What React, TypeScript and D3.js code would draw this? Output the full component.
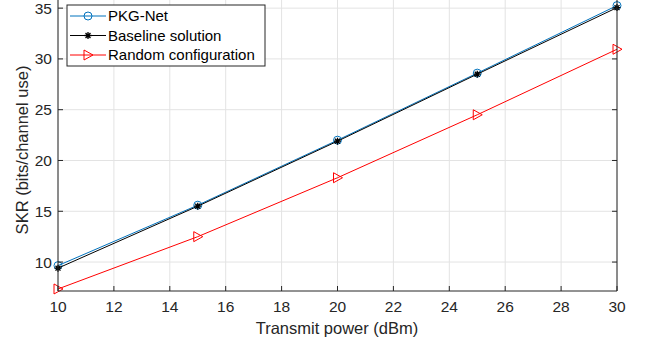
import React from "react";
import * as d3 from "d3";

const power = [10, 15, 20, 25, 30];
const pkgNet = [9.65, 15.6, 22.0, 28.6, 35.25];
const baseline = [9.4, 15.5, 21.9, 28.5, 35.05];
const randomCfg = [7.35, 12.5, 18.3, 24.5, 30.95];
const xTicks = [10, 12, 14, 16, 18, 20, 22, 24, 26, 28, 30];
const yTicks = [10, 15, 20, 25, 30, 35];

const W = 645, H = 341;
const left = 58, right = 617, top = 0, bottom = 291;

const x = d3.scaleLinear().domain([10, 30]).range([left, right]);
const y = d3.scaleLinear().domain([7.15, 35.8]).range([bottom, top]);
const line = d3.line<number>().x((_, i) => x(power[i])).y(d => y(d));

const axisColor = "#262626";
const font = "'Liberation Sans', Arial, sans-serif";

const series = [
  { name: "PKG-Net", data: pkgNet, color: "#0072BD", marker: "circle" },
  { name: "Baseline solution", data: baseline, color: "#000000", marker: "star" },
  { name: "Random configuration", data: randomCfg, color: "#FF0000", marker: "tri" },
];

function Marker({ kind, cx, cy, color }: { kind: string; cx: number; cy: number; color: string }) {
  if (kind === "circle") return <circle cx={cx} cy={cy} r={4} fill="none" stroke={color} strokeWidth={1} />;
  if (kind === "tri")
    return <path d={`M${cx - 4},${cy - 5}L${cx + 5},${cy}L${cx - 4},${cy + 5}Z`} fill="none" stroke={color} strokeWidth={1} />;
  const r = 3.5;
  const segs = [0, 45, 90, 135].map(a => {
    const t = (a * Math.PI) / 180;
    return `M${cx - r * Math.cos(t)},${cy - r * Math.sin(t)}L${cx + r * Math.cos(t)},${cy + r * Math.sin(t)}`;
  });
  return <path d={segs.join("")} stroke={color} strokeWidth={1.3} />;
}

export default function App() {
  return (
    <svg width={W} height={H} style={{ position: "absolute", left: 0, top: 0 }} fontFamily={font}>
      <rect width={W} height={H} fill="#fff" />
      {xTicks.map(t => (
        <line key={"gx" + t} x1={x(t)} x2={x(t)} y1={top} y2={bottom} stroke="#e3e3e3" strokeWidth={1} />
      ))}
      {yTicks.map(t => (
        <line key={"gy" + t} x1={left} x2={right} y1={y(t)} y2={y(t)} stroke="#e3e3e3" strokeWidth={1} />
      ))}
      {series.map(s => (
        <g key={s.name}>
          <path d={line(s.data) ?? ""} fill="none" stroke={s.color} strokeWidth={1} />
          {s.data.map((v, i) => (
            <Marker key={i} kind={s.marker} cx={x(power[i])} cy={y(v)} color={s.color} />
          ))}
        </g>
      ))}
      <line x1={left} x2={left} y1={top} y2={bottom} stroke={axisColor} />
      <line x1={right} x2={right} y1={top} y2={bottom} stroke={axisColor} />
      <line x1={left} x2={right} y1={bottom} y2={bottom} stroke={axisColor} />
      {xTicks.map(t => (
        <g key={"tx" + t}>
          <line x1={x(t)} x2={x(t)} y1={bottom} y2={bottom - 5} stroke={axisColor} />
          <text x={x(t)} y={bottom + 21} textAnchor="middle" fontSize={15.5} fill={axisColor}>{t}</text>
        </g>
      ))}
      {yTicks.map(t => (
        <g key={"ty" + t}>
          <line x1={left} x2={left + 5} y1={y(t)} y2={y(t)} stroke={axisColor} />
          <line x1={right} x2={right - 5} y1={y(t)} y2={y(t)} stroke={axisColor} />
          <text x={left - 6} y={y(t) + 5.5} textAnchor="end" fontSize={15.5} fill={axisColor}>{t}</text>
        </g>
      ))}
      <text x={337} y={334} textAnchor="middle" fontSize={16.5} fill={axisColor}>Transmit power (dBm)</text>
      <text transform={`translate(28,150) rotate(-90)`} textAnchor="middle" fontSize={16.5} fill={axisColor}>
        SKR (bits/channel use)
      </text>
      <g>
        <rect x={67} y={5} width={198} height={61} fill="#fff" stroke={axisColor} strokeWidth={1} />
        {series.map((s, i) => {
          const ly = 16 + i * 19.5;
          return (
            <g key={"lg" + s.name}>
              <line x1={70} x2={106} y1={ly} y2={ly} stroke={s.color} />
              <Marker kind={s.marker} cx={88} cy={ly} color={s.color} />
              <text x={108} y={ly + 5.3} fontSize={15} fill="#000">{s.name}</text>
            </g>
          );
        })}
      </g>
    </svg>
  );
}
